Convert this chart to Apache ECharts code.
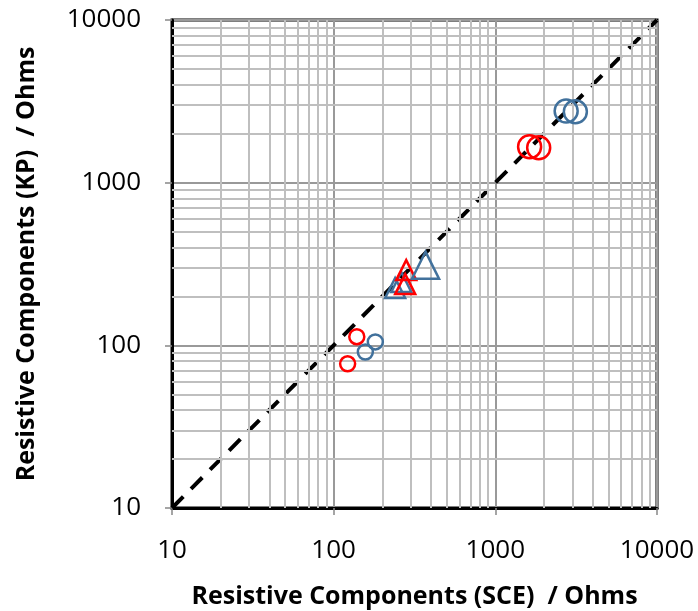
<!DOCTYPE html>
<html>
<head>
<meta charset="utf-8">
<script src="https://cdn.jsdelivr.net/npm/echarts@6/dist/echarts.min.js"></script>
<style>
  html, body { margin: 0; padding: 0; background: #fff; }
  #chart { width: 698px; height: 611px; }
</style>
</head>
<body>
<div id="chart"></div>
<script>
// values (SCE, KP) in Ohms
const blueSmallCircles = [[157, 91], [181, 105]];
const redSmallCircles = [[139, 113], [122, 77]];
const blueLargeCircles = [[2742, 2754], [3126, 2729]];
const redLargeCircles = [[1629, 1663], [1854, 1641]];
const blueSmallTriangles = [[240, 225], [262, 245]];
const blueLargeTriangles = [[370, 311]];
const redTriangles = [[281, 290], [277, 238]];
const parityLine = [[10, 10], [10000, 10000]];
const minorTicks = [20, 30, 40, 50, 60, 70, 80, 90,
  200, 300, 400, 500, 600, 700, 800, 900,
  2000, 3000, 4000, 5000, 6000, 7000, 8000, 9000];

const blue = '#41719c';
const red = '#ff0000';

function hollow(name, data, color, symbol, size) {
  return {
    name: name,
    type: 'scatter',
    symbol: symbol,
    symbolSize: size,
    data: data,
    z: 5,
    itemStyle: { color: 'rgba(255,255,255,0)', borderColor: color, borderWidth: 2.5, opacity: 1 }
  };
}

const chart = echarts.init(document.getElementById('chart'));
const axisCommon = {
  type: 'log',
  logBase: 10,
  min: 10,
  max: 10000,
  nameLocation: 'middle',
  nameTextStyle: { fontFamily: 'Open Sans', fontWeight: 'bold', fontSize: 25, color: '#000' },
  axisLine: { show: true, lineStyle: { color: '#000', width: 3 } },
  axisTick: { show: true, length: 7, lineStyle: { color: '#888', width: 1.5 } },
  axisLabel: { fontFamily: 'Open Sans', fontSize: 26, color: '#000', formatter: v => String(v) },
  splitLine: { show: true, lineStyle: { color: '#999', width: 2 } }
};

chart.setOption({
  animation: false,
  grid: {
    left: 172, right: 41, top: 20, bottom: 103,
    containLabel: false, outerBoundsMode: 'none',
    show: true, borderColor: '#000', borderWidth: 3
  },
  xAxis: Object.assign({}, axisCommon, {
    name: 'Resistive Components (SCE)  / Ohms',
    nameGap: 76,
    axisLabel: Object.assign({}, axisCommon.axisLabel, { margin: 30 })
  }),
  yAxis: Object.assign({}, axisCommon, {
    name: 'Resistive Components (KP)  / Ohms',
    nameGap: 133,
    axisLabel: Object.assign({}, axisCommon.axisLabel, { margin: 31 })
  }),
  series: [
    {
      name: 'minor grid',
      type: 'line',
      data: [],
      silent: true,
      markLine: {
        silent: true,
        symbol: 'none',
        label: { show: false },
        lineStyle: { color: '#bfbfbf', width: 2, type: 'solid', opacity: 1 },
        data: minorTicks.map(v => ({ xAxis: v })).concat(minorTicks.map(v => ({ yAxis: v })))
      }
    },
    {
      name: 'parity',
      type: 'line',
      data: parityLine,
      symbol: 'none',
      z: 4,
      lineStyle: { color: '#000', width: 4, type: [16, 11] }
    },
    hollow('blue small circles', blueSmallCircles, blue, 'circle', 15),
    hollow('red small circles', redSmallCircles, red, 'circle', 15),
    hollow('blue large circles', blueLargeCircles, blue, 'circle', 23),
    hollow('red large circles', redLargeCircles, red, 'circle', 23),
    hollow('blue small triangles', blueSmallTriangles, blue, 'triangle', 20),
    hollow('red triangles', redTriangles, red, 'triangle', 20),
    hollow('blue large triangles', blueLargeTriangles, blue, 'triangle', 27)
  ]
});
</script>
</body>
</html>
